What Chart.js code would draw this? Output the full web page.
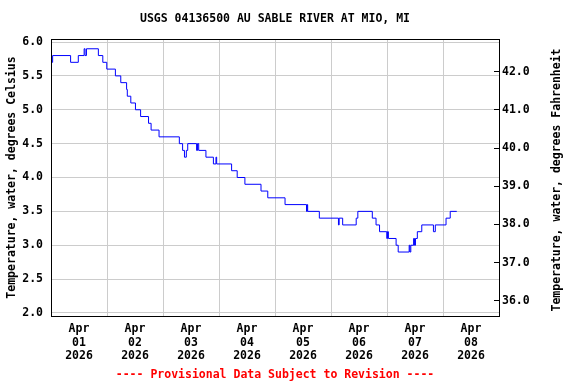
<!DOCTYPE html>
<html>
<head>
<meta charset="utf-8">
<script src="https://cdn.jsdelivr.net/npm/chart.js@4"></script>
<style>
  html, body { margin: 0; padding: 0; background: #fff; }
  #chart { display: block; }
</style>
</head>
<body>
<canvas id="chart" width="576" height="384"></canvas>
<script>
// hours since Apr 01 00:00 where the reading changes, and the value held from then on
const changeHours = [
    0, 0.7, 8.4, 11.7, 14.2, 14.6, 15.2, 20.3, 22.2, 23.9,
    27.6, 29.9, 32.4, 32.7, 34.2, 36.2, 38.4, 41.8, 42.9, 46.3,
    55.0, 56.4, 57.2, 58.0, 58.6, 62.4, 62.8, 63.3, 66.4, 69.6,
    70.7, 71.0, 77.4, 79.8, 83.1, 90.0, 92.9, 100.3, 109.5, 109.8,
    110.0, 115.0, 123.2, 123.5, 125.0, 130.8, 131.5, 137.7, 139.3, 140.8,
    143.9, 144.2, 144.6, 147.9, 148.8, 153.5, 153.8, 154.2, 155.4, 155.8,
    156.2, 157.0, 158.9, 163.9, 164.7, 169.3, 171.1, 173.9
];
const tempC = [
    5.7, 5.8, 5.7, 5.8, 5.9, 5.8, 5.9, 5.8, 5.7, 5.6,
    5.5, 5.4, 5.3, 5.2, 5.1, 5.0, 4.9, 4.8, 4.7, 4.6,
    4.5, 4.4, 4.3, 4.4, 4.5, 4.4, 4.5, 4.4, 4.3, 4.2,
    4.3, 4.2, 4.1, 4.0, 3.9, 3.8, 3.7, 3.6, 3.5, 3.6,
    3.5, 3.4, 3.3, 3.4, 3.3, 3.4, 3.5, 3.4, 3.3, 3.2,
    3.1, 3.2, 3.1, 3.0, 2.9, 3.0, 2.9, 3.0, 3.1, 3.0,
    3.1, 3.2, 3.3, 3.2, 3.3, 3.4, 3.5, 3.5
];

const dayLabels = ['01', '02', '03', '04', '05', '06', '07', '08'];
const monthLabel = 'Apr';
const yearLabel = '2026';
const celsiusTicks = [2.0, 2.5, 3.0, 3.5, 4.0, 4.5, 5.0, 5.5, 6.0];
const fahrenheitTicks = [36, 37, 38, 39, 40, 41, 42];

const titleText = 'USGS 04136500 AU SABLE RIVER AT MIO, MI';
const footerText = '---- Provisional Data Subject to Revision ----';
const leftTitle = 'Temperature, water, degrees Celsius';
const rightTitle = 'Temperature, water, degrees Fahrenheit';

const cMin = 1.9557, cMax = 6.0443;
const fMin = 35.60, fMax = 42.857;

const FONT = { family: '"DejaVu Sans Mono", monospace', size: 11.5, weight: 'bold' };

const frame = {
    id: 'frame',
    afterDraw(chart) {
        const { ctx, chartArea: a } = chart;
        ctx.save();
        ctx.strokeStyle = '#000';
        ctx.lineWidth = 1;
        ctx.strokeRect(a.left + 0.5, a.top + 0.5, a.right - a.left, a.bottom - a.top);
        ctx.translate(557, 180);
        ctx.rotate(-Math.PI / 2);
        ctx.font = 'bold 11.5px "DejaVu Sans Mono", monospace';
        ctx.fillStyle = '#000';
        ctx.textAlign = 'center';
        ctx.textBaseline = 'middle';
        ctx.fillText(rightTitle, 0, 0);
        ctx.restore();
    }
};

// x ticks every 12 h: midnight ones carry the grid, noon ones carry the date label
const xTicks = [];
for (let h = 0; h <= 192; h += 12) xTicks.push(h);

new Chart(document.getElementById('chart'), {
    type: 'line',
    data: {
        datasets: [{
            data: changeHours.map((h, i) => ({ x: h, y: tempC[i] })),
            borderColor: '#0000ff',
            borderWidth: 1,
            pointRadius: 0,
            stepped: true,
            fill: false
        }]
    },
    options: {
        responsive: false,
        animation: false,
        layout: { padding: 0 },
        plugins: {
            legend: { display: false },
            tooltip: { enabled: false },
            title: {
                display: true,
                text: titleText,
                color: '#000',
                font: FONT,
                fullSize: false,
                padding: { top: 12, bottom: 13.2 }
            },
            subtitle: {
                display: true,
                text: footerText,
                position: 'bottom',
                color: '#ff0000',
                font: FONT,
                fullSize: false,
                padding: { top: 4, bottom: 2 }
            }
        },
        scales: {
            x: {
                type: 'linear',
                min: 0,
                max: 192,
                afterBuildTicks: s => { s.ticks = xTicks.map(v => ({ value: v })); },
                afterFit: s => { s.height = 48.2; },
                grid: {
                    color: c => (c.tick && c.tick.value % 24 === 0 && c.tick.value > 0 && c.tick.value < 192) ? '#cccccc' : 'rgba(0,0,0,0)',
                    drawTicks: false
                },
                border: { color: '#000' },
                ticks: {
                    autoSkip: false,
                    maxRotation: 0,
                    padding: 6,
                    color: '#000',
                    font: FONT,
                    callback: v => v % 24 === 12 ? [monthLabel, dayLabels[(v - 12) / 24], yearLabel] : ''
                }
            },
            y: {
                position: 'left',
                min: cMin,
                max: cMax,
                afterBuildTicks: s => { s.ticks = celsiusTicks.map(v => ({ value: v })); },
                afterFit: s => { s.width = 51; },
                grid: { color: '#cccccc', drawTicks: false },
                border: { color: '#000' },
                ticks: { padding: 8, color: '#000', font: FONT, callback: v => v.toFixed(1) },
                title: { display: true, text: leftTitle, color: '#000', font: FONT, padding: { top: 5, bottom: 0 } }
            },
            yF: {
                position: 'right',
                min: fMin,
                max: fMax,
                afterBuildTicks: s => { s.ticks = fahrenheitTicks.map(v => ({ value: v })); },
                afterFit: s => { s.width = 77; },
                grid: { drawOnChartArea: false, color: '#000', tickLength: -5 },
                border: { color: '#000' },
                ticks: { padding: 8, color: '#000', font: FONT, callback: v => v.toFixed(1) }
            }
        }
    },
    plugins: [frame]
});
</script>
</body>
</html>
